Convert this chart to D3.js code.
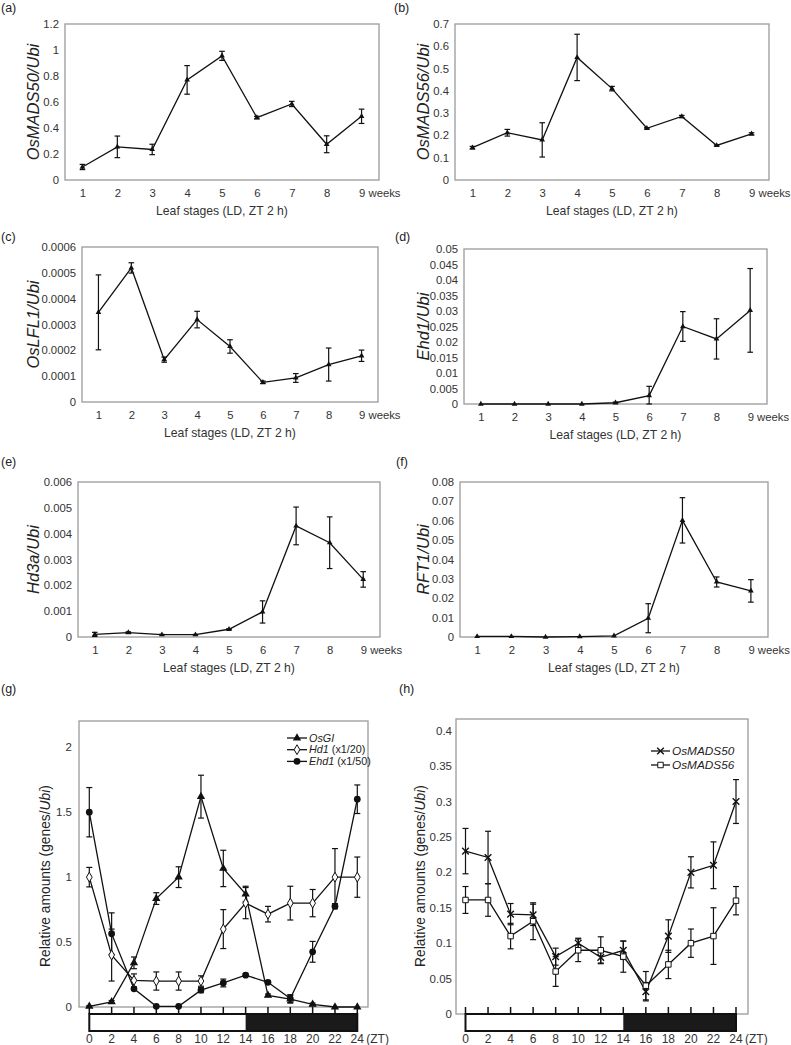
<!DOCTYPE html>
<html>
<head>
<meta charset="utf-8">
<script src="https://cdn.jsdelivr.net/npm/d3@7"></script>
<style>
body { margin: 0; background: #fff; }
text { font-family: "Liberation Sans", Arial, sans-serif; }
</style>
</head>
<body>
<div id="chart"></div>
<script>
// leaf stage series (a)-(f)
let weeks = ["1", "2", "3", "4", "5", "6", "7", "8", "9"];
let mads50Leaf = [0.10, 0.255, 0.235, 0.77, 0.955, 0.48, 0.585, 0.275, 0.49];
let mads50LeafErr = [0.02, 0.083, 0.04, 0.11, 0.035, 0.01, 0.02, 0.065, 0.055];
let mads56Leaf = [0.145, 0.212, 0.18, 0.55, 0.41, 0.232, 0.285, 0.155, 0.207];
let mads56LeafErr = [0.006, 0.015, 0.077, 0.104, 0.01, 0.003, 0.005, 0.003, 0.005];
let lfl1Leaf = [0.000347, 0.000519, 0.000164, 0.000319, 0.000215, 0.000076, 0.000093, 0.000145, 0.000179];
let lfl1LeafErr = [0.000145, 0.00002, 0.00001, 0.000032, 0.000026, 0.000005, 0.000017, 0.000064, 0.000022];
let ehd1Leaf = [0, 0, 0, 0, 0.0004, 0.0027, 0.025, 0.021, 0.0302];
let ehd1LeafErr = [0, 0, 0, 0, 0.0002, 0.003, 0.0048, 0.0065, 0.0135];
let hd3aLeaf = [0.0001, 0.00017, 0.00009, 0.00009, 0.0003, 0.00097, 0.0043, 0.00365, 0.00223];
let hd3aLeafErr = [0.00008, 0.00003, 0.00001, 0.00001, 0.00002, 0.00043, 0.00073, 0.001, 0.0003];
let rft1Leaf = [0.0003, 0.0003, 0, 0.0002, 0.0006, 0.0097, 0.0602, 0.0284, 0.0238];
let rft1LeafErr = [0, 0, 0, 0, 0, 0.0075, 0.0117, 0.0026, 0.0058];

let ticksA = ["0", "0.2", "0.4", "0.6", "0.8", "1", "1.2"];
let ticksB = ["0", "0.1", "0.2", "0.3", "0.4", "0.5", "0.6", "0.7"];
let ticksC = ["0", "0.0001", "0.0002", "0.0003", "0.0004", "0.0005", "0.0006"];
let ticksD = ["0", "0.005", "0.01", "0.015", "0.02", "0.025", "0.03", "0.035", "0.04", "0.045", "0.05"];
let ticksE = ["0", "0.001", "0.002", "0.003", "0.004", "0.005", "0.006"];
let ticksF = ["0", "0.01", "0.02", "0.03", "0.04", "0.05", "0.06", "0.07", "0.08"];

// diurnal series (g), (h)
let zt = [0, 2, 4, 6, 8, 10, 12, 14, 16, 18, 20, 22, 24];
let osGI = [0.005, 0.04, 0.34, 0.835, 1.0, 1.62, 1.067, 0.87, 0.09, 0.06, 0.02, 0.0, 0.0];
let osGIErr = [0.005, 0.01, 0.045, 0.045, 0.08, 0.165, 0.14, 0.06, 0.01, 0.03, 0.01, 0, 0];
let hd1 = [1.0, 0.4, 0.205, 0.2, 0.2, 0.2, 0.6, 0.8, 0.715, 0.8, 0.8, 1.0, 1.0];
let hd1Err = [0.075, 0.2, 0.05, 0.07, 0.07, 0.04, 0.15, 0.12, 0.06, 0.13, 0.105, 0.22, 0.155];
let ehd1Diurnal = [1.5, 0.565, 0.14, 0.005, 0.005, 0.13, 0.185, 0.245, 0.19, 0.065, 0.425, 0.776, 1.6];
let ehd1DiurnalErr = [0.19, 0.16, 0.01, 0, 0, 0.02, 0.03, 0.01, 0.01, 0.03, 0.08, 0.02, 0.11];
let mads50Diurnal = [0.23, 0.221, 0.141, 0.14, 0.081, 0.1, 0.08, 0.09, 0.0315, 0.11, 0.2, 0.21, 0.3];
let mads50DiurnalErr = [0.032, 0.037, 0.015, 0.015, 0.012, 0.007, 0.008, 0.013, 0.013, 0.023, 0.022, 0.033, 0.031];
let mads56Diurnal = [0.161, 0.161, 0.11, 0.131, 0.06, 0.09, 0.09, 0.081, 0.04, 0.07, 0.1, 0.11, 0.16];
let mads56DiurnalErr = [0.019, 0.023, 0.018, 0.026, 0.021, 0.016, 0.019, 0.022, 0.02, 0.02, 0.02, 0.04, 0.02];
let ticksG = ["0", "0.5", "1", "1.5", "2"];
let ticksH = ["0", "0.05", "0.1", "0.15", "0.2", "0.25", "0.3", "0.35", "0.4"];
let lightEnd = 14;

let w = 791, h = 1045;
let frameColor = "#9a9a9a", textColor = "#333";
let narrow = "'Liberation Sans Narrow', 'Arial Narrow', 'Liberation Sans', Arial, sans-serif";

let svg = d3.select("#chart").append("svg").attr("width", w).attr("height", h);

function panelLetter(txt, x, y) {
    svg.append("text").attr("x", x).attr("y", y).attr("font-size", 12.5)
       .attr("fill", "#222").text(txt);
}

function errorBars(g, xs, ys, vals, errs, cap) {
    vals.forEach(function(v, i) {
        if (!errs[i]) return;
        let cx = xs(i), y1 = ys(v + errs[i]), y2 = ys(Math.max(0, v - errs[i]));
        g.append("line").attr("x1", cx).attr("x2", cx).attr("y1", y1).attr("y2", y2)
         .attr("stroke", "#111").attr("stroke-width", 1.2);
        [y1, y2].forEach(function(yy) {
            g.append("line").attr("x1", cx - cap).attr("x2", cx + cap).attr("y1", yy).attr("y2", yy)
             .attr("stroke", "#111").attr("stroke-width", 1.2);
        });
    });
}

function drawLeafPanel(p) {
    let x = d3.scalePoint().domain(weeks).range([p.left, p.right]).padding(0.5);
    let y = d3.scaleLinear().domain([0, +p.ticks[p.ticks.length - 1]]).range([p.bottom, p.top]);
    let g = svg.append("g");

    g.append("rect").attr("x", p.left).attr("y", p.top)
     .attr("width", p.right - p.left).attr("height", p.bottom - p.top)
     .attr("fill", "none").attr("stroke", frameColor).attr("stroke-width", 1.3);

    g.selectAll(".ylab").data(p.ticks).enter().append("text")
     .attr("x", p.left - 6).attr("y", (d) => y(+d)).attr("dy", "0.36em")
     .attr("text-anchor", "end").attr("font-size", 11.3).attr("fill", textColor)
     .text((d) => d);

    let ax = g.append("g").attr("transform", "translate(0," + p.bottom + ")")
              .call(d3.axisBottom(x).tickSize(0).tickPadding(9));
    ax.select(".domain").remove();
    ax.attr("font-family", null).attr("font-size", null);
    ax.selectAll("text").attr("font-size", 11.3).attr("fill", textColor);
    ax.selectAll(".tick").filter((d) => d === weeks[weeks.length - 1]).select("text")
      .attr("text-anchor", "start").attr("x", -3).text((d) => d + " weeks");

    g.append("text").attr("x", (p.left + p.right) / 2).attr("y", p.bottom + 35)
     .attr("text-anchor", "middle").attr("font-size", 12.2).attr("fill", textColor)
     .text("Leaf stages (LD, ZT 2 h)");

    let yt = g.append("text").attr("transform", "translate(" + p.titleX + "," + (p.top + p.bottom) / 2 + ") rotate(-90)")
              .attr("text-anchor", "middle").attr("dy", "0.36em").attr("font-size", 16.5)
              .attr("fill", "#222");
    yt.append("tspan").attr("font-style", "italic").text(p.gene);
    yt.append("tspan").attr("font-style", "italic").text("/");
    yt.append("tspan").attr("font-style", "italic").text("Ubi");

    let px = (i) => x(weeks[i]);
    let line = d3.line().x((d, i) => px(i)).y((d) => y(d));
    g.append("path").datum(p.values).attr("d", line)
     .attr("fill", "none").attr("stroke", "#111").attr("stroke-width", 1.3);
    errorBars(g, px, y, p.values, p.errs, 2.8);
    g.selectAll(".mk").data(p.values).enter().append("path")
     .attr("transform", (d, i) => "translate(" + px(i) + "," + y(d) + ")")
     .attr("d", d3.symbol(d3.symbolTriangle, 14)).attr("fill", "#111");

    panelLetter(p.letter, p.letterX, p.letterY);
}

let leafPanels = [
    {letter: "(a)", gene: "OsMADS50", values: mads50Leaf, errs: mads50LeafErr, ticks: ticksA,
     left: 65, right: 379, top: 24, bottom: 180, titleX: 33, letterX: 1, letterY: 12},
    {letter: "(b)", gene: "OsMADS56", values: mads56Leaf, errs: mads56LeafErr, ticks: ticksB,
     left: 455, right: 769, top: 24, bottom: 180, titleX: 423, letterX: 394, letterY: 12},
    {letter: "(c)", gene: "OsLFL1", values: lfl1Leaf, errs: lfl1LeafErr, ticks: ticksC,
     left: 82, right: 378, top: 247, bottom: 402, titleX: 33, letterX: 1, letterY: 241},
    {letter: "(d)", gene: "Ehd1", values: ehd1Leaf, errs: ehd1LeafErr, ticks: ticksD,
     left: 464, right: 767, top: 249, bottom: 404, titleX: 423, letterX: 395, letterY: 241},
    {letter: "(e)", gene: "Hd3a", values: hd3aLeaf, errs: hd3aLeafErr, ticks: ticksE,
     left: 78, right: 380, top: 482, bottom: 637, titleX: 33, letterX: 1, letterY: 466},
    {letter: "(f)", gene: "RFT1", values: rft1Leaf, errs: rft1LeafErr, ticks: ticksF,
     left: 460, right: 768, top: 482, bottom: 637, titleX: 423, letterX: 396, letterY: 466}
];
leafPanels.forEach(drawLeafPanel);

function crossPath(s) {
    return "M" + (-s) + "," + (-s) + "L" + s + "," + s + "M" + (-s) + "," + s + "L" + s + "," + (-s);
}

function drawMarker(g, type, cx, cy) {
    let m;
    if (type === "triangle") {
        m = g.append("path").attr("d", d3.symbol(d3.symbolTriangle, 30)).attr("fill", "#111");
    } else if (type === "diamond") {
        m = g.append("path").attr("d", d3.symbol(d3.symbolDiamond, 28))
             .attr("fill", "#fff").attr("stroke", "#111").attr("stroke-width", 1);
    } else if (type === "circle") {
        m = g.append("path").attr("d", d3.symbol(d3.symbolCircle, 36)).attr("fill", "#111");
    } else if (type === "square") {
        m = g.append("path").attr("d", d3.symbol(d3.symbolSquare, 30))
             .attr("fill", "#fff").attr("stroke", "#111").attr("stroke-width", 1);
    } else {
        m = g.append("path").attr("d", crossPath(3.3)).attr("fill", "none")
             .attr("stroke", "#111").attr("stroke-width", 1.4);
    }
    m.attr("transform", "translate(" + cx + "," + cy + ")");
}

function drawDiurnalPanel(p) {
    let x = d3.scaleLinear().domain([0, 24]).range([p.x0, p.x24]);
    let y = d3.scaleLinear().domain([0, +p.ticks[p.ticks.length - 1]]).range([p.bottom, p.yTop]);
    let g = svg.append("g");

    g.append("rect").attr("x", p.left).attr("y", p.top)
     .attr("width", p.right - p.left).attr("height", p.bottom - p.top)
     .attr("fill", "none").attr("stroke", frameColor).attr("stroke-width", 1.3);

    g.selectAll(".ylab").data(p.ticks).enter().append("text")
     .attr("x", p.left - p.tickGap).attr("y", (d) => y(+d)).attr("dy", "0.36em")
     .attr("text-anchor", "end").attr("font-size", 11.5).attr("fill", textColor)
     .attr("font-family", narrow).text((d) => d);

    let yt = g.append("text").attr("transform", "translate(" + p.titleX + "," + p.titleY + ") rotate(-90)")
              .attr("text-anchor", "middle").attr("dy", "0.36em").attr("font-size", 13.8)
              .attr("fill", "#222");
    yt.append("tspan").text("Relative amounts (genes/");
    yt.append("tspan").attr("font-style", "italic").text("Ubi");
    yt.append("tspan").text(")");

    // light / dark bar
    g.append("rect").attr("x", x(0)).attr("y", p.barTop).attr("width", x(lightEnd) - x(0))
     .attr("height", p.barBottom - p.barTop).attr("fill", "#fff");
    g.append("rect").attr("x", x(lightEnd)).attr("y", p.barTop).attr("width", x(24) - x(lightEnd))
     .attr("height", p.barBottom - p.barTop).attr("fill", "#1a1a1a");
    g.append("rect").attr("x", x(0)).attr("y", p.barTop).attr("width", x(24) - x(0))
     .attr("height", p.barBottom - p.barTop).attr("fill", "none")
     .attr("stroke", "#111").attr("stroke-width", 2);
    g.selectAll(".zttick").data(zt).enter().append("line")
     .attr("x1", (d) => x(d)).attr("x2", (d) => x(d))
     .attr("y1", p.barTop).attr("y2", p.barTop - 7)
     .attr("stroke", "#111").attr("stroke-width", 1.5);
    g.selectAll(".ztlab").data(zt).enter().append("text")
     .attr("x", (d) => x(d)).attr("y", p.barBottom + 12)
     .attr("text-anchor", "middle").attr("font-size", 12).attr("fill", textColor)
     .attr("font-family", narrow).text((d) => d);
    g.append("text").attr("x", x(24) + 9).attr("y", p.barBottom + 12)
     .attr("font-size", 12).attr("fill", textColor).attr("font-family", narrow).text("(ZT)");

    let px = (i) => x(zt[i]);
    p.series.forEach(function(s) {
        let line = d3.line().x((d, i) => px(i)).y((d) => y(d));
        g.append("path").datum(s.values).attr("d", line)
         .attr("fill", "none").attr("stroke", "#111").attr("stroke-width", 1.3);
        errorBars(g, px, y, s.values, s.errs, 3);
    });
    p.series.forEach(function(s) {
        s.values.forEach((d, i) => drawMarker(g, s.marker, px(i), y(d)));
    });

    // legend
    p.series.forEach(function(s, i) {
        let ly = p.legY + i * p.legStep;
        g.append("line").attr("x1", p.legX).attr("x2", p.legX + p.legLen)
         .attr("y1", ly).attr("y2", ly).attr("stroke", "#111").attr("stroke-width", 1.3);
        drawMarker(g, s.marker, p.legX + p.legLen / 2, ly);
        let t = g.append("text").attr("x", p.legX + p.legLen + 2).attr("y", ly).attr("dy", "0.35em")
                 .attr("font-size", p.legFont).attr("fill", "#222");
        t.append("tspan").attr("font-style", "italic").text(s.label);
        if (s.note) t.append("tspan").text(" " + s.note);
    });

    panelLetter(p.letter, p.letterX, p.letterY);
}

drawDiurnalPanel({
    letter: "(g)", letterX: 1, letterY: 693, ticks: ticksG, tickGap: 7,
    left: 79, right: 368, top: 721, bottom: 1007, yTop: 747.3, x0: 89.3, x24: 357.3,
    barTop: 1014, barBottom: 1031, titleX: 45, titleY: 876,
    legX: 287, legLen: 20, legY: 738, legStep: 11.7, legFont: 10.8,
    series: [
        {label: "OsGI", note: "", values: osGI, errs: osGIErr, marker: "triangle"},
        {label: "Hd1", note: "(x1/20)", values: hd1, errs: hd1Err, marker: "diamond"},
        {label: "Ehd1", note: "(x1/50)", values: ehd1Diurnal, errs: ehd1DiurnalErr, marker: "circle"}
    ]
});

drawDiurnalPanel({
    letter: "(h)", letterX: 399, letterY: 693, ticks: ticksH, tickGap: 4,
    left: 456, right: 748, top: 719, bottom: 1014, yTop: 730.7, x0: 465.5, x24: 736,
    barTop: 1014, barBottom: 1031, titleX: 420, titleY: 876,
    legX: 651, legLen: 19, legY: 751, legStep: 14, legFont: 11.8,
    series: [
        {label: "OsMADS50", note: "", values: mads50Diurnal, errs: mads50DiurnalErr, marker: "cross"},
        {label: "OsMADS56", note: "", values: mads56Diurnal, errs: mads56DiurnalErr, marker: "square"}
    ]
});
</script>
</body>
</html>
